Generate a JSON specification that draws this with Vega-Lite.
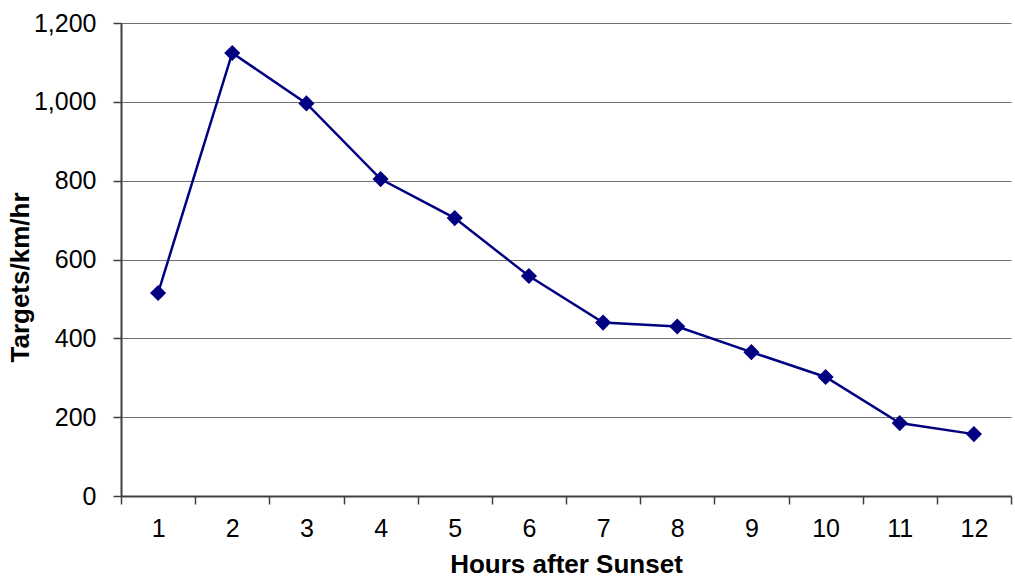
{
  "$schema": "https://vega.github.io/schema/vega-lite/v6.json",
  "width": 890,
  "height": 473,
  "autosize": {"type": "none"},
  "padding": {"left": 121, "top": 23, "right": 4, "bottom": 82},
  "background": "white",
  "config": {
    "view": {"stroke": null},
    "font": "Liberation Sans"
  },
  "data": {
    "values": [
      {"hour": 1, "targets": 515},
      {"hour": 2, "targets": 1124},
      {"hour": 3, "targets": 996},
      {"hour": 4, "targets": 804},
      {"hour": 5, "targets": 705},
      {"hour": 6, "targets": 558},
      {"hour": 7, "targets": 440},
      {"hour": 8, "targets": 430},
      {"hour": 9, "targets": 365},
      {"hour": 10, "targets": 302},
      {"hour": 11, "targets": 185},
      {"hour": 12, "targets": 157}
    ]
  },
  "mark": {"type": "line", "color": "#000080", "strokeWidth": 2.5, "point": {"shape": "diamond", "size": 260, "color": "#000080", "filled": true, "opacity": 1}},
  "encoding": {
    "x": {
      "field": "hour", "type": "ordinal",
      "scale": {"type": "band", "paddingInner": 0, "paddingOuter": 0},
      "axis": {
        "title": "Hours after Sunset", "titleFontSize": 26, "titleFontWeight": "bold", "titleColor": "black", "titlePadding": 10,
        "labelAngle": 0, "labelFontSize": 25, "labelColor": "black", "labelPadding": 12,
        "tickBand": "extent", "tickSize": 8, "tickColor": "#404040", "tickWidth": 1.5,
        "domainColor": "#404040", "domainWidth": 2, "grid": false
      }
    },
    "y": {
      "field": "targets", "type": "quantitative",
      "scale": {"domain": [0, 1200], "nice": false},
      "axis": {
        "title": "Targets/km/hr", "titleFontSize": 26, "titleFontWeight": "bold", "titleColor": "black", "titlePadding": 0, "titleY": 254,
        "values": [0, 200, 400, 600, 800, 1000, 1200], "format": ",.0f",
        "labelFontSize": 25, "labelColor": "black", "labelPadding": 17,
        "tickSize": 8, "tickColor": "#404040", "tickWidth": 1.5,
        "domainColor": "#404040", "domainWidth": 2,
        "grid": true, "gridColor": "#707070", "gridWidth": 1
      }
    }
  }
}
